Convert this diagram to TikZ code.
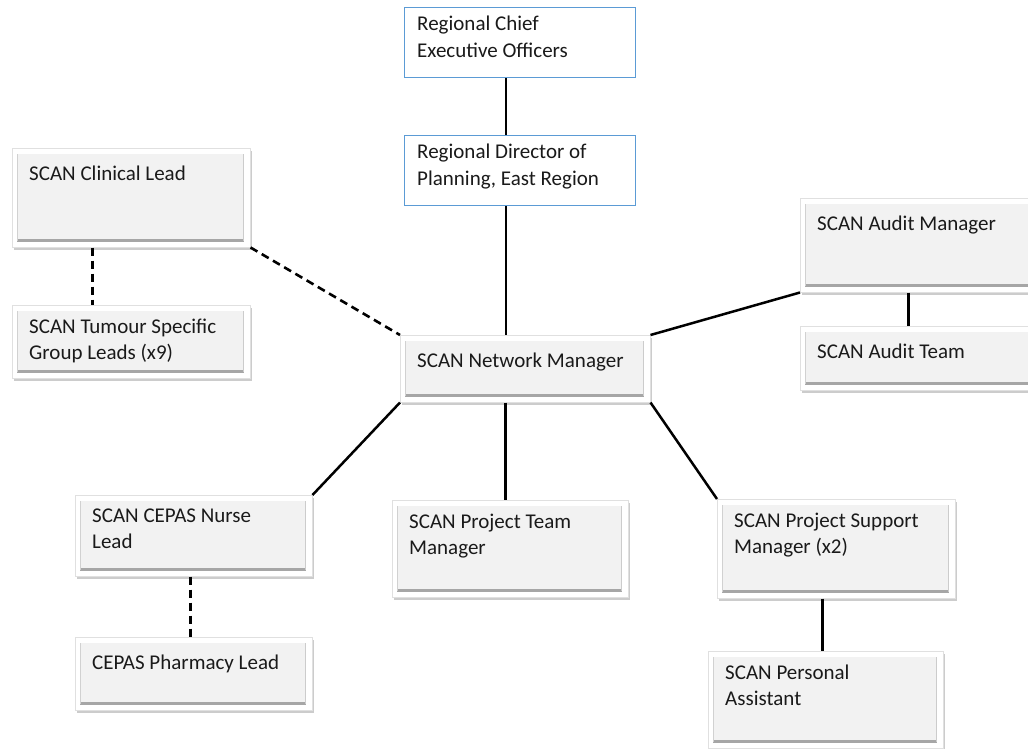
\documentclass[tikz,border=0pt]{standalone}
\usepackage{fontspec}
\setmainfont{Carlito}
\usetikzlibrary{shadows}
\definecolor{bevelfill}{HTML}{F2F2F2}
\definecolor{beveledge}{HTML}{A6A6A6}
\definecolor{plainblue}{HTML}{5B9BD5}
\definecolor{inktext}{HTML}{1A1A1A}
\begin{document}
\begin{tikzpicture}
[x=1pt,y=-1pt,
  bevelbox/.style={shape=rectangle,anchor=north west,inner sep=0pt,
    draw=white!88!black,line width=0.5pt,fill=white,
    drop shadow={opacity=0.4,shadow xshift=1.5pt,shadow yshift=-2.5pt},
    path picture={
      \fill[bevelfill] ([shift={(5pt,-6pt)}]path picture bounding box.north west)
        rectangle ([shift={(-6pt,6pt)}]path picture bounding box.south east);
      \draw[beveledge,line width=2.5pt]
        ([shift={(5pt,7pt)}]path picture bounding box.south west)
        -- ([shift={(-6pt,7pt)}]path picture bounding box.south east);
      \draw[white!80!black,line width=1.2pt]
        ([shift={(-6.5pt,6pt)}]path picture bounding box.south east)
        -- ([shift={(-6.5pt,-6pt)}]path picture bounding box.north east);
      \draw[white!82!black,line width=1pt]
        ([shift={(5.5pt,6pt)}]path picture bounding box.south west)
        -- ([shift={(5.5pt,-6pt)}]path picture bounding box.north west);
    }},
  plainbox/.style={shape=rectangle,anchor=north west,inner sep=0pt,
    draw=plainblue,line width=1.3pt,fill=white},
  boxtext/.style={anchor=north west,inner sep=0pt,align=left,text=inktext,
    font=\fontsize{21}{26.5}\selectfont,execute at begin node=\strut},
  solidlink/.style={line width=2.5pt},
  dashlink/.style={line width=2.6pt,dash pattern=on 8pt off 5pt}]
\useasboundingbox (0,0) rectangle (1028,749);
%% blue boxes at the top
\foreach \nodename/\x/\y/\w/\h/\caption in {
  ceo/404/7/231/70/{Regional Chief\\Executive Officers},
  rdp/404/135/231/70/{Regional Director of\\Planning, East Region}}
{
  \node (\nodename) at (\x,\y) [plainbox,minimum width=\w pt,minimum height=\h pt] {};
  \node (\nodename-t) at ([shift={(13pt,-9pt)}]\nodename.north west) [boxtext] {\caption};
}
%% bevelled boxes
\foreach \nodename/\x/\y/\w/\h/\caption in {
  clin/12/148/238/99/{SCAN Clinical Lead},
  tsg/12/305/238/73/{SCAN Tumour Specific\\Group Leads (x9)},
  net/400/335/250/67/{SCAN Network Manager},
  aud/800/198/240/94/{SCAN Audit Manager},
  audt/800/326/240/64/{SCAN Audit Team},
  nurse/75/495/237/81/{SCAN CEPAS Nurse\\Lead},
  ptm/392/500/236/97/{SCAN Project Team\\Manager},
  psm/717/499/238/99/{SCAN Project Support\\Manager (x2)},
  pharm/75/637/237/73/{CEPAS Pharmacy Lead},
  pa/708/651/235/97/{SCAN Personal\\Assistant}}
{
  \node (\nodename) at (\x,\y) [bevelbox,minimum width=\w pt,minimum height=\h pt] {};
  \node (\nodename-t) at ([shift={(17pt,-13.5pt)}]\nodename.north west) [boxtext] {\caption};
}
%% links
\draw[solidlink] ([xshift=-14pt]ceo.south) -- ([xshift=-14pt]ceo.south |- rdp.north);
\draw[solidlink] ([xshift=-14pt]rdp.south) -- ([xshift=-14pt]rdp.south |- net.north);
\draw[solidlink] ([xshift=-20pt]net.south) -- ([xshift=-20pt]net.south |- ptm.north);
\draw[solidlink] (net.north east) -- (aud.south west);
\draw[solidlink] (net.south west) -- (nurse.north east);
\draw[solidlink] (net.south east) -- (psm.north west);
\draw[solidlink] ([xshift=-12pt]aud.south) -- ([xshift=-12pt]aud.south |- audt.north);
\draw[solidlink] ([xshift=-14pt]psm.south) -- ([xshift=-14pt]psm.south |- pa.north);
\draw[dashlink] (clin.south east) -- (net.north west);
\draw[dashlink] ([xshift=-39pt]clin.south) -- ([xshift=-39pt]clin.south |- tsg.north);
\draw[dashlink] ([xshift=-3pt]nurse.south) -- ([xshift=-3pt]nurse.south |- pharm.north);
\end{tikzpicture}
\end{document}
